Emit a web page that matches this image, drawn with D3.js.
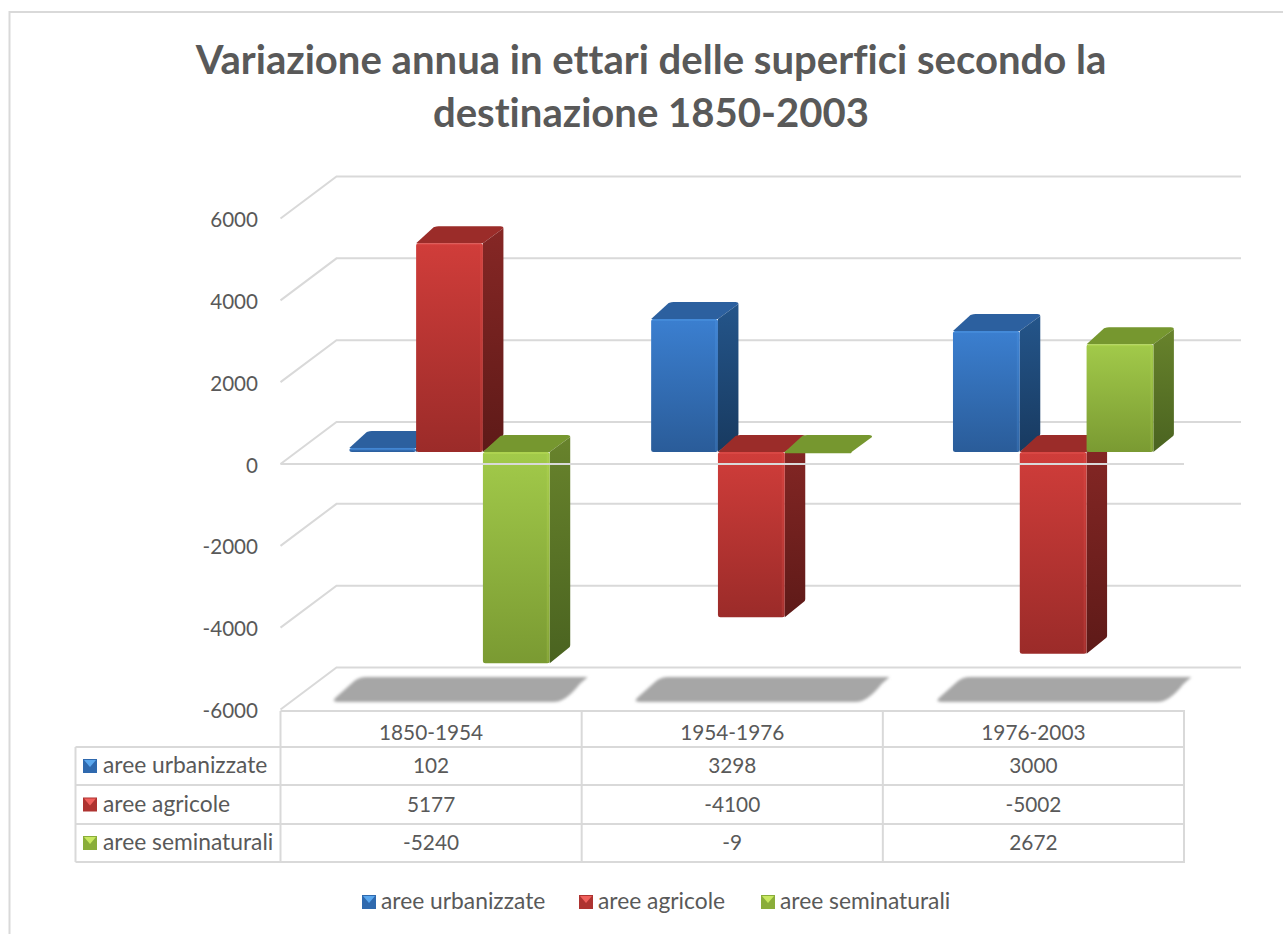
<!DOCTYPE html>
<html><head><meta charset="utf-8">
<script src="https://cdn.jsdelivr.net/npm/d3@7"></script>
<style>html,body{margin:0;padding:0;background:#fff}svg{display:block}text{font-family:Lato,"Open Sans",sans-serif;fill:#595959;font-variant-ligatures:none;font-feature-settings:"liga" 0}</style>
</head><body><div id="c"></div>
<script>
const titleLines=["Variazione annua in ettari delle superfici secondo la","destinazione 1850-2003"];
const categories=["1850-1954","1954-1976","1976-2003"];
const seriesNames=["aree urbanizzate","aree agricole","aree seminaturali"];
const urbanizzate=[102,3298,3000];
const agricole=[5177,-4100,-5002];
const seminaturali=[-5240,-9,2672];
const seriesValues=[urbanizzate,agricole,seminaturali];
const yTicks=[-6000,-4000,-2000,0,2000,4000,6000];
const palette=[
 {front:["#3b7fd0","#2a5c99"],top:"#2c609f",side:["#24558a","#183a60"],sw:"#2f69ae",lt:"#5aa7ee"},
 {front:["#d03d3a","#9b2b29"],top:"#9b2c29",side:["#862725","#5e1a18"],sw:"#ae3330",lt:"#f0605c"},
 {front:["#a2ca4a","#7a9a32"],top:"#76972f",side:["#68832c","#4a6320"],sw:"#8aad3a",lt:"#c8e860"}];

const W=1283,H=934;
const svg=d3.select("#c").append("svg").attr("width",W).attr("height",H);
const defs=svg.append("defs");
palette.forEach((p,i)=>{
 [["front",p.front],["side",p.side]].forEach(([k,c])=>{
  const g=defs.append("linearGradient").attr("id",k+i).attr("x1",0).attr("y1",0).attr("x2",0).attr("y2",1);
  g.append("stop").attr("offset",0).attr("stop-color",c[0]);
  g.append("stop").attr("offset",1).attr("stop-color",c[1]);
 });
});
defs.append("filter").attr("id","blur").attr("x","-10%").attr("y","-30%").attr("width","120%").attr("height","160%")
 .append("feGaussianBlur").attr("stdDeviation",1.6);

const grid="#d9d9d9";
// chart outline
svg.append("path").attr("d","M9.5,934V12H1283").attr("fill","none").attr("stroke",grid).attr("stroke-width",2);

// title
svg.append("g").selectAll("text").data(titleLines).join("text")
 .attr("x",651).attr("y",(d,i)=>73.5+i*53).attr("text-anchor","middle")
 .style("font-size","40.1px").style("font-weight",700).text(d=>d);

// scales
const left=280.5,right=1184,depthX=56,depthY=42;
const y=d3.scaleLinear().domain([-6000,6000]).range([709.5,218.5]);
const x=d3.scaleBand().domain(categories).range([left,right]);
const barY=d3.scaleLinear().domain([-6000,6000]).range([694,210]);
const groupX=d3.scaleBand().domain(categories).range([298.6,1204.1]).paddingInner(0.336).paddingOuter(0.168);
const serX=d3.scaleBand().domain(seriesNames).range([0,groupX.bandwidth()]);
const bdx=20.5,bdy=17;

// walls
const wall=svg.append("g").attr("fill","none").attr("stroke",grid).attr("stroke-width",2);
yTicks.forEach(t=>{
 const p=d3.path();p.moveTo(left,y(t));p.lineTo(left+depthX,y(t)-depthY);p.lineTo(1241,y(t)-depthY);
 wall.append("path").attr("d",p.toString());
});
const axisG=svg.append("g").attr("transform",`translate(${left-22.5},1)`)
 .call(d3.axisLeft(y).tickValues(yTicks).tickSize(0).tickFormat(d=>String(d)));
axisG.select(".domain").remove();
axisG.selectAll("text").attr("x",0).attr("dy","0.34em").attr("text-anchor","end").style("font-size","20.6px").style("font-family","Lato");

// floor shadows
svg.append("g").selectAll("path").data(categories).join("path")
 .attr("filter","url(#blur)").attr("fill","#a6a6a6")
 .attr("d",c=>{
  const a=groupX(c)-19,b=groupX(c)+groupX.bandwidth()+4;
  return `M${a+8},702Q${a},702 ${a+6},697L${a+24},681Q${a+29},677 ${a+36},677L${b+34},677L${b+26},684Q${b+12},702 ${b},702Z`;
 });

// bars
const bars=svg.append("g");
categories.forEach((c,ci)=>{
 seriesNames.forEach((s,si)=>{
  const v=seriesValues[si][ci];
  const x0=groupX(c)+serX(s),w=serX.bandwidth(),x1=x0+w;
  const y0=barY(Math.max(v,0)),y1=barY(Math.min(v,0));
  const g=bars.append("g");
  g.append("path").attr("fill",palette[si].top)
   .attr("d",`M${x0},${y0}L${x0+bdx-3},${y0-bdy+1}Q${x0+bdx},${y0-bdy} ${x0+bdx+2},${y0-bdy}L${x1+bdx-3},${y0-bdy}Q${x1+bdx},${y0-bdy} ${x1+bdx},${y0-bdy+2}L${x1},${y0}Z`);
  if(y1-y0>2){
   g.append("path").attr("fill",`url(#side${si})`)
    .attr("d",`M${x1},${y0}L${x1+bdx},${y0-bdy+2}L${x1+bdx},${y1-bdy-1}Q${x1+bdx},${y1-bdy+1} ${x1+bdx-2},${y1-bdy+2}L${x1},${y1}Z`);
   g.append("rect").attr("x",x0).attr("y",y0).attr("width",w).attr("height",y1-y0).attr("rx",2.5).attr("fill",`url(#front${si})`);
   g.append("rect").attr("x",x1-3).attr("y",y0+1).attr("width",2).attr("height",y1-y0-2).attr("fill",palette[si].lt).attr("opacity",.2);
   g.append("rect").attr("x",x0+1).attr("y",y0).attr("width",w-3).attr("height",2).attr("fill",palette[si].lt).attr("opacity",.3);
  } else {
   g.append("rect").attr("x",x0).attr("y",y0-1).attr("width",w).attr("height",Math.max(y1-y0,0)+2).attr("rx",1).attr("fill",si===2?palette[si].top:palette[si].front[0]);
  }
 });
});

// front zero line passes over the descending bars
svg.append("line").attr("x1",left).attr("x2",right).attr("y1",y(0)).attr("y2",y(0)).attr("stroke",grid).attr("stroke-width",2);

// data table
const tableLeft=75.5,rowY=[711,747,785,824,862];
const t=svg.append("g").attr("stroke",grid).attr("stroke-width",2);
t.append("line").attr("x1",left).attr("x2",right+1).attr("y1",rowY[0]).attr("y2",rowY[0]);
rowY.slice(1).forEach(r=>t.append("line").attr("x1",tableLeft).attr("x2",right+1).attr("y1",r).attr("y2",r));
t.append("line").attr("x1",tableLeft).attr("x2",tableLeft).attr("y1",rowY[1]).attr("y2",rowY[4]);
[left,...categories.map(c=>x(c)+x.bandwidth())].forEach(v=>t.append("line").attr("x1",v).attr("x2",v).attr("y1",rowY[0]).attr("y2",rowY[4]));

const cell=(xx,yy,txt,anchor,size)=>svg.append("text").attr("x",xx).attr("y",yy).attr("text-anchor",anchor||"middle").style("font-size",(size||20.8)+"px").text(txt);
categories.forEach((c,ci)=>{
 const cx=x(c)+x.bandwidth()/2;
 cell(cx,740,c);
 seriesValues.forEach((vals,si)=>cell(cx,(rowY[si+1]+rowY[si+2])/2+7,vals[ci]));
});
function swatch(xx,yy,i){
 const g=svg.append("g").attr("transform",`translate(${xx},${yy})`);
 g.append("rect").attr("width",14).attr("height",14).attr("fill",palette[i].sw);
 g.append("path").attr("d","M1,1H13L7,8Z").attr("fill",palette[i].lt);
}
seriesNames.forEach((s,i)=>{
 const m=(rowY[i+1]+rowY[i+2])/2;
 swatch(83,m-7,i);
 cell(103,m+7,s,"start",22.8);
});
// legend
const legX=[362,579,761];
seriesNames.forEach((s,i)=>{
 swatch(legX[i],895,i);
 cell(legX[i]+19,909,s,"start",22.8);
});
</script></body></html>
